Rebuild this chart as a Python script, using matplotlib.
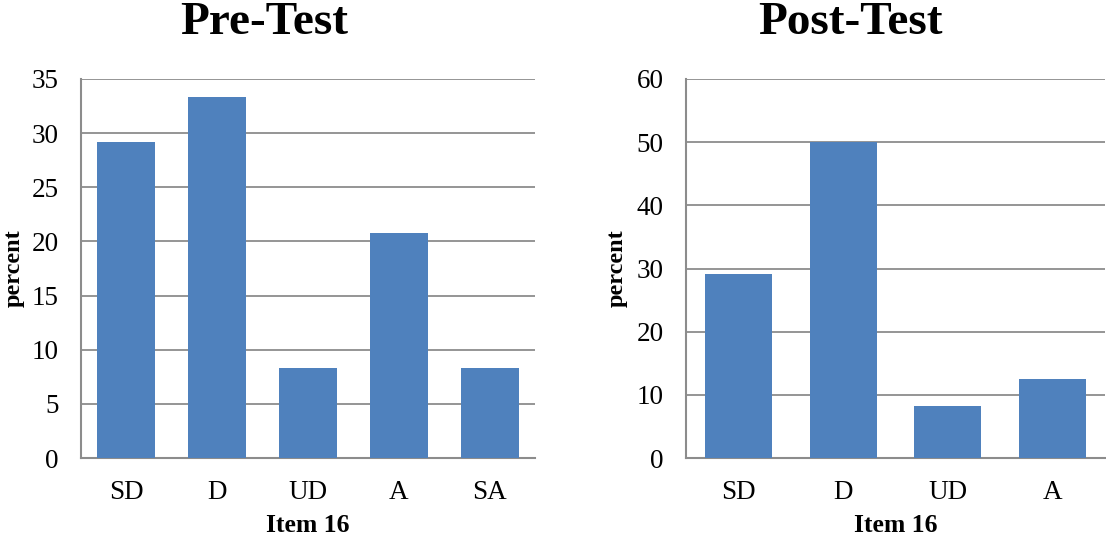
import matplotlib
matplotlib.use("Agg")
import matplotlib.pyplot as plt

pre_categories = ["SD", "D", "UD", "A", "SA"]
pre_values = [29.2, 33.3, 8.3, 20.8, 8.3]
post_categories = ["SD", "D", "UD", "A"]
post_values = [29.2, 50.0, 8.3, 12.5]
pre_yticks = [0, 5, 10, 15, 20, 25, 30, 35]
post_yticks = [0, 10, 20, 30, 40, 50, 60]

plt.rcParams['font.family'] = ['Liberation Serif', 'DejaVu Serif']

W, H = 1106, 541
fig = plt.figure(figsize=(W / 100, H / 100), dpi=100)

bar_color = "#4F81BD"
grid_color = "#8C8C8C"

def make_ax(rect, cats, vals, yticks, title, title_x, ylab_x):
    ax = fig.add_axes(rect)
    x = range(len(cats))
    ax.bar(x, vals, width=0.64, color=bar_color, zorder=3)
    ax.set_xlim(-0.5, len(cats) - 0.5)
    ax.set_ylim(yticks[0], yticks[-1])
    ax.set_yticks(yticks)
    ax.set_xticks(list(x))
    ax.set_xticklabels(cats)
    ax.tick_params(axis='both', length=0, labelsize=19.5)
    ax.tick_params(axis='x', pad=16)
    ax.tick_params(axis='y', pad=16)
    ax.yaxis.grid(True, color=grid_color, linewidth=1.3, zorder=0)
    for s in ["top", "right"]:
        ax.spines[s].set_visible(False)
    for s in ["left", "bottom"]:
        ax.spines[s].set_color(grid_color)
        ax.spines[s].set_linewidth(1.5)
    cx = rect[0] + rect[2] / 2
    cy = rect[1] + rect[3] / 2
    fig.text(cx, 1 - 526 / H, "Item 16", fontsize=18.5, fontweight="bold",
             ha="center", va="center")
    fig.text(ylab_x / W, cy, "percent", fontsize=17.5, fontweight="bold",
             ha="center", va="center", rotation=90)
    fig.text(title_x / W, 1 - 23 / H, title, fontsize=34, fontweight="bold",
             ha="center", va="center")
    return ax

make_ax([81 / W, 1 - 458 / H, (535 - 81) / W, (458 - 79) / H],
        pre_categories, pre_values, pre_yticks, "Pre-Test", 264, 14)
make_ax([686 / W, 1 - 458 / H, (1105 - 686) / W, (458 - 79) / H],
        post_categories, post_values, post_yticks, "Post-Test", 850, 617)

fig.savefig("out.png", dpi=100)
